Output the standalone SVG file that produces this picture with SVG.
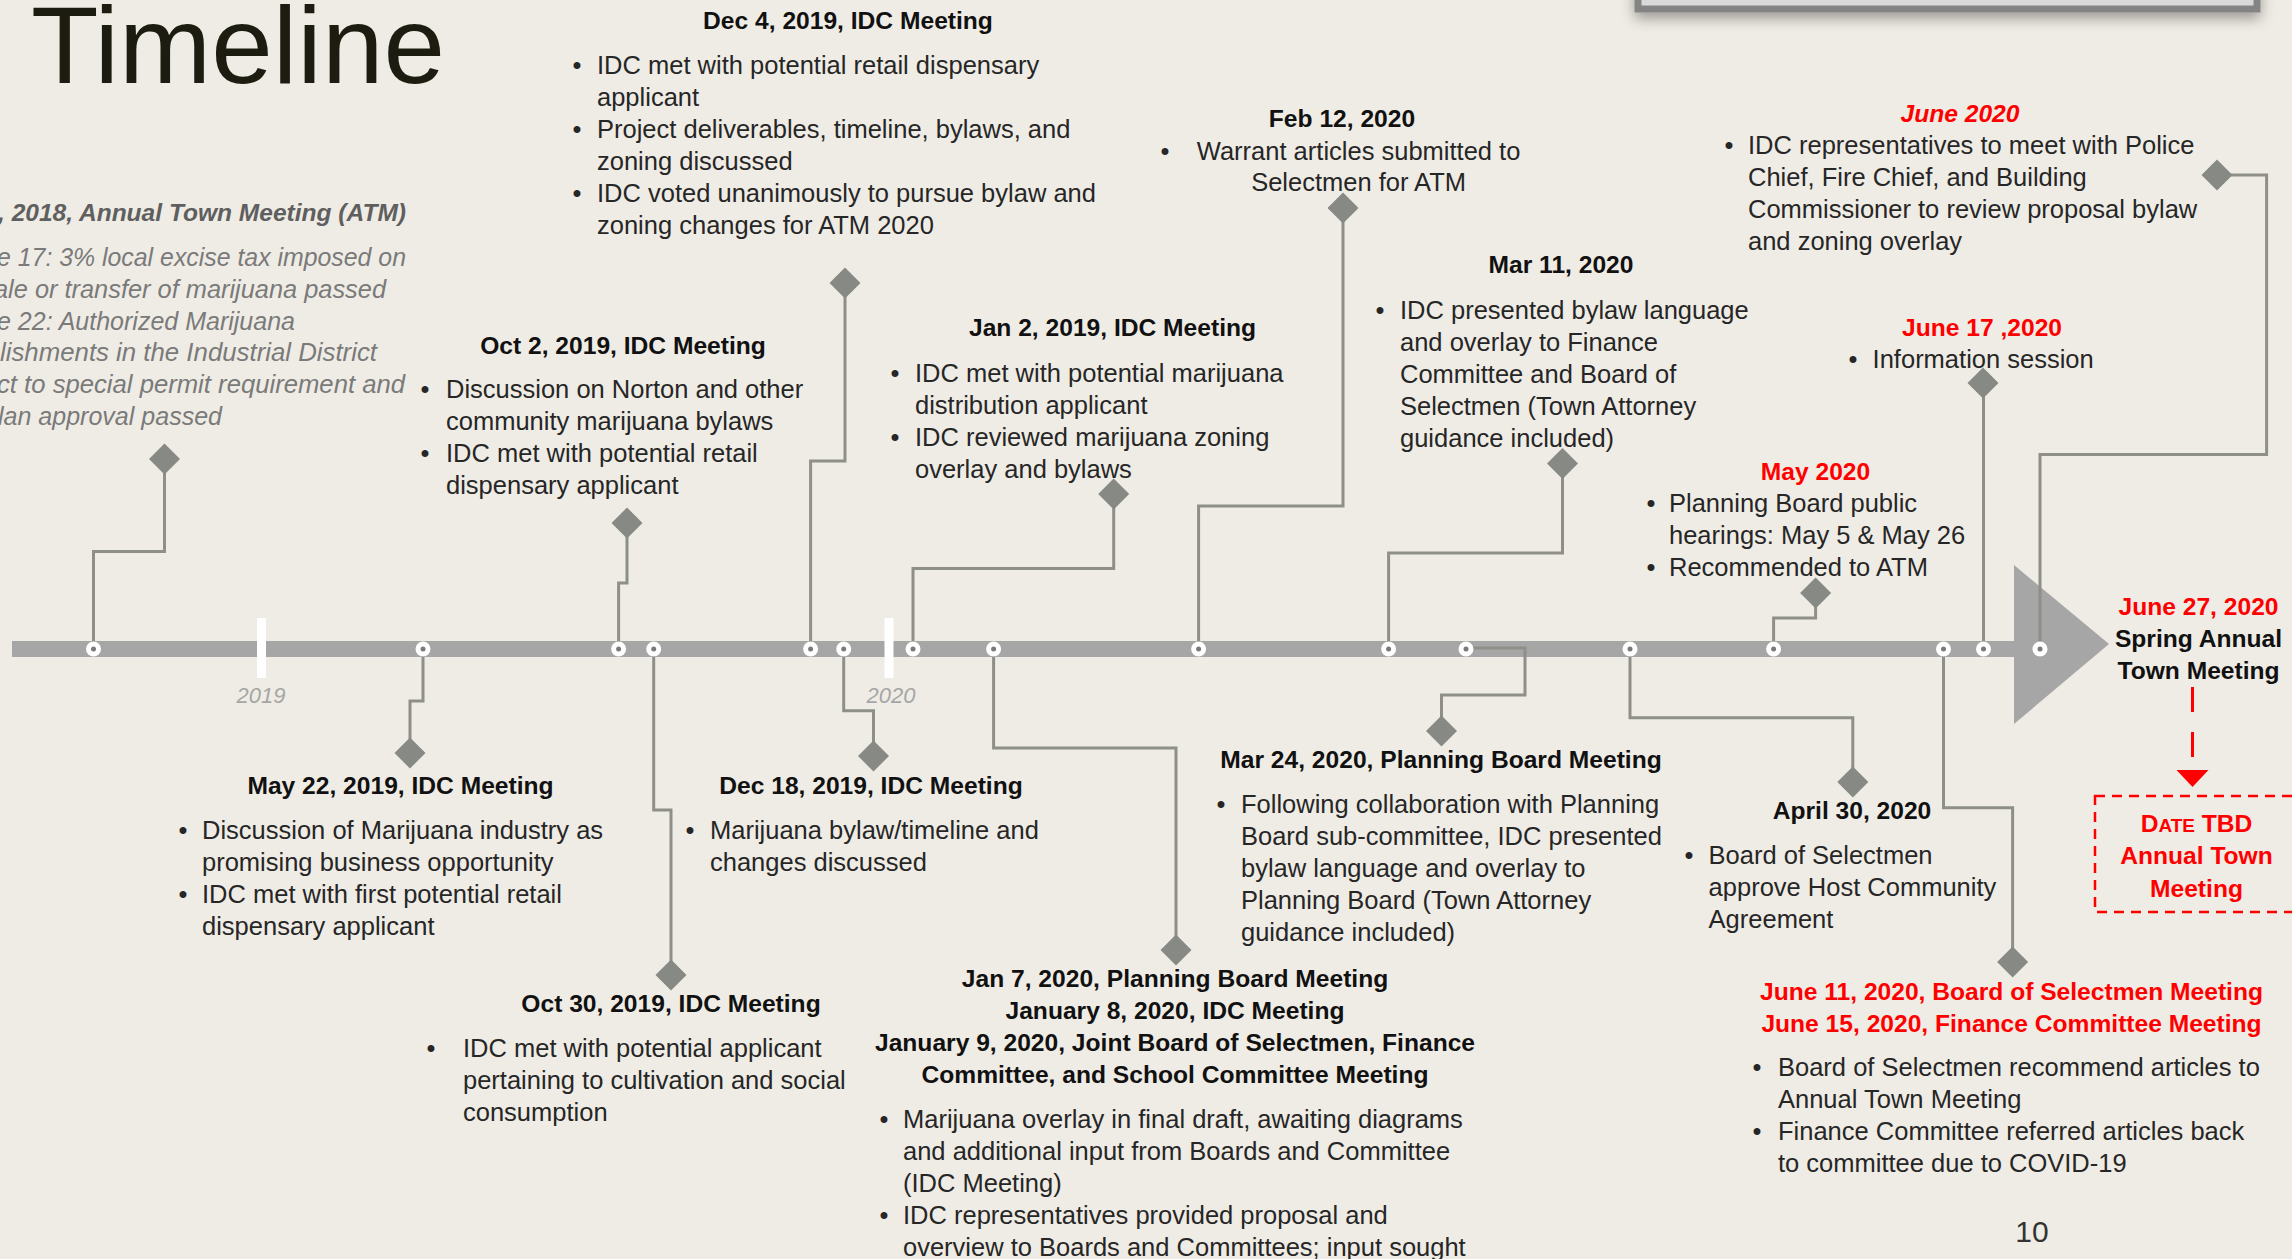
<svg xmlns="http://www.w3.org/2000/svg" xmlns:xlink="http://www.w3.org/1999/xlink" width="2292" height="1259" viewBox="0 0 2292 1259">
<style>
text { font-family: "Liberation Sans", Arial, sans-serif; }
.title { font-size:109px; fill:#1c1c10; }
.h { font-size:24.6px; font-weight:bold; fill:#111111; text-anchor:middle; }
.red { fill:#FF0000; }
.t { font-size:25.5px; fill:#262626; }
.bu { font-size:25.5px; fill:#262626; text-anchor:middle; }
.gi { font-size:25.5px; font-style:italic; fill:#7a7a7a; }
.gh { font-size:24.6px; font-style:italic; font-weight:bold; fill:#5f5f5f; }
.yr { font-size:22px; font-style:italic; fill:#A6A6A6; text-anchor:middle; }
.conn { fill:none; stroke:#8E8F89; stroke-width:3; }
.dm { fill:#878984; }
</style>
<defs>
<path id="dm" d="M0,-15.5 L15.5,0 L0,15.5 L-15.5,0 Z"/>
<g id="dot"><circle r="7.5" fill="#ffffff"/><circle r="2.5" fill="#7a7a7a"/></g>
<filter id="sh" x="-10%" y="-100%" width="120%" height="400%">
<feDropShadow dx="0" dy="6" stdDeviation="7" flood-color="#000" flood-opacity="0.35"/>
</filter>
</defs>
<rect x="0" y="0" width="2292" height="1259" fill="#EFECE5"/>

<g id="topbox">
<rect x="1638" y="-30" width="619" height="39" fill="#d9d9d9" stroke="#848484" stroke-width="7" filter="url(#sh)"/>
</g>

<g id="title">
<text class="title" x="31" y="83" textLength="414" lengthAdjust="spacingAndGlyphs">Timeline</text>
</g>

<g id="axis">
<rect x="12" y="641" width="2004" height="16" fill="#A6A6A6"/>
<polygon points="2014,565 2014,724 2109,644" fill="#A6A6A6"/>
<rect x="257" y="618" width="9" height="60" fill="#ffffff"/>
<rect x="884.5" y="618" width="9" height="60" fill="#ffffff"/>
<text class="yr" x="261" y="703">2019</text>
<text class="yr" x="891" y="703">2020</text>
</g>

<g id="connectors">
<path class="conn" d="M93.5,649 V551.5 H164.5 V459"/>
<path class="conn" d="M423,649 V701 H410 V753"/>
<path class="conn" d="M618.6,649 V583 H627 V523"/>
<path class="conn" d="M653.7,649 V810 H671 V975"/>
<path class="conn" d="M810.6,649 V461 H845 V283"/>
<path class="conn" d="M843.7,649 V710.7 H873.5 V756"/>
<path class="conn" d="M913,649 V568.5 H1113.7 V494"/>
<path class="conn" d="M993.6,649 V748 H1176 V950"/>
<path class="conn" d="M1198.6,649 V506 H1343 V208"/>
<path class="conn" d="M1388.6,649 V553 H1562.5 V463.5"/>
<path class="conn" d="M1466,648 H1525 V695 H1441.5 V731"/>
<path class="conn" d="M1630,649 V717.7 H1852.8 V782"/>
<path class="conn" d="M1773.6,649 V618 H1815.6 V593"/>
<path class="conn" d="M1943.5,649 V807.7 H2012.6 V962"/>
<path class="conn" d="M1983.5,649 V383"/>
<path class="conn" d="M2040,649 V454.6 H2266.6 V175 H2217"/>
<path d="M2192.5,687 V770" fill="none" stroke="#FF0000" stroke-width="3" stroke-dasharray="25 20"/>
<polygon points="2176.5,770 2208.5,770 2192.5,787" fill="#FF0000"/>
</g>

<g id="dots">
<use xlink:href="#dot" href="#dot" x="93.5" y="649"/>
<use xlink:href="#dot" href="#dot" x="423" y="649"/>
<use xlink:href="#dot" href="#dot" x="618.6" y="649"/>
<use xlink:href="#dot" href="#dot" x="653.7" y="649"/>
<use xlink:href="#dot" href="#dot" x="810.6" y="649"/>
<use xlink:href="#dot" href="#dot" x="843.7" y="649"/>
<use xlink:href="#dot" href="#dot" x="913" y="649"/>
<use xlink:href="#dot" href="#dot" x="993.6" y="649"/>
<use xlink:href="#dot" href="#dot" x="1198.6" y="649"/>
<use xlink:href="#dot" href="#dot" x="1388.6" y="649"/>
<use xlink:href="#dot" href="#dot" x="1466" y="649"/>
<use xlink:href="#dot" href="#dot" x="1630" y="649"/>
<use xlink:href="#dot" href="#dot" x="1773.6" y="649"/>
<use xlink:href="#dot" href="#dot" x="1943.5" y="649"/>
<use xlink:href="#dot" href="#dot" x="1983.5" y="649"/>
<use xlink:href="#dot" href="#dot" x="2040" y="649"/>
</g>

<g id="ev-2018-atm">
<use xlink:href="#dm" href="#dm" class="dm" x="164.5" y="459"/>
<text class="gh" x="-2" y="221" textLength="408" lengthAdjust="spacingAndGlyphs">, 2018, Annual Town Meeting (ATM)</text>
<text class="gi" x="-3" y="266" textLength="409" lengthAdjust="spacingAndGlyphs">e 17: 3% local excise tax imposed on</text>
<text class="gi" x="-6" y="298" textLength="392" lengthAdjust="spacingAndGlyphs">ale or transfer of marijuana passed</text>
<text class="gi" x="-3" y="330" textLength="298" lengthAdjust="spacingAndGlyphs">e 22: Authorized Marijuana</text>
<text class="gi" x="0" y="361" textLength="377" lengthAdjust="spacingAndGlyphs">lishments in the Industrial District</text>
<text class="gi" x="-3" y="393" textLength="408" lengthAdjust="spacingAndGlyphs">ct to special permit requirement and</text>
<text class="gi" x="-2" y="425" textLength="224" lengthAdjust="spacingAndGlyphs">lan approval passed</text>
</g>

<g id="ev-may22-2019">
<use xlink:href="#dm" href="#dm" class="dm" x="410" y="753"/>
<text class="h" x="400.5" y="794">May 22, 2019, IDC Meeting</text>
<text class="bu" x="183" y="839">•</text>
<text class="t" x="202" y="839">Discussion of Marijuana industry as</text>
<text class="t" x="202" y="871">promising business opportunity</text>
<text class="bu" x="183" y="903">•</text>
<text class="t" x="202" y="903">IDC met with first potential retail</text>
<text class="t" x="202" y="935">dispensary applicant</text>
</g>

<g id="ev-oct2-2019">
<use xlink:href="#dm" href="#dm" class="dm" x="627" y="523"/>
<text class="h" x="623" y="354">Oct 2, 2019, IDC Meeting</text>
<text class="bu" x="425" y="398">•</text>
<text class="t" x="446" y="398">Discussion on Norton and other</text>
<text class="t" x="446" y="430">community marijuana bylaws</text>
<text class="bu" x="425" y="462">•</text>
<text class="t" x="446" y="462">IDC met with potential retail</text>
<text class="t" x="446" y="494">dispensary applicant</text>
</g>

<g id="ev-oct30-2019">
<use xlink:href="#dm" href="#dm" class="dm" x="671" y="975"/>
<text class="h" x="671" y="1012">Oct 30, 2019, IDC Meeting</text>
<text class="bu" x="431" y="1057">•</text>
<text class="t" x="463" y="1057">IDC met with potential applicant</text>
<text class="t" x="463" y="1089">pertaining to cultivation and social</text>
<text class="t" x="463" y="1121">consumption</text>
</g>

<g id="ev-dec4-2019">
<use xlink:href="#dm" href="#dm" class="dm" x="845" y="283"/>
<text class="h" x="848" y="29">Dec 4, 2019, IDC Meeting</text>
<text class="bu" x="577" y="74">•</text>
<text class="t" x="597" y="74">IDC met with potential retail dispensary</text>
<text class="t" x="597" y="106">applicant</text>
<text class="bu" x="577" y="138">•</text>
<text class="t" x="597" y="138">Project deliverables, timeline, bylaws, and</text>
<text class="t" x="597" y="170">zoning discussed</text>
<text class="bu" x="577" y="202">•</text>
<text class="t" x="597" y="202">IDC voted unanimously to pursue bylaw and</text>
<text class="t" x="597" y="234">zoning changes for ATM 2020</text>
</g>

<g id="ev-dec18-2019">
<use xlink:href="#dm" href="#dm" class="dm" x="873.5" y="756"/>
<text class="h" x="871" y="794">Dec 18, 2019, IDC Meeting</text>
<text class="bu" x="690" y="839">•</text>
<text class="t" x="710" y="839">Marijuana bylaw/timeline and</text>
<text class="t" x="710" y="871">changes discussed</text>
</g>

<g id="ev-jan2">
<use xlink:href="#dm" href="#dm" class="dm" x="1113.7" y="494"/>
<text class="h" x="1112.5" y="336">Jan 2, 2019, IDC Meeting</text>
<text class="bu" x="895" y="382">•</text>
<text class="t" x="915" y="382">IDC met with potential marijuana</text>
<text class="t" x="915" y="414">distribution applicant</text>
<text class="bu" x="895" y="446">•</text>
<text class="t" x="915" y="446">IDC reviewed marijuana zoning</text>
<text class="t" x="915" y="478">overlay and bylaws</text>
</g>

<g id="ev-jan7-2020">
<use xlink:href="#dm" href="#dm" class="dm" x="1176" y="950"/>
<text class="h" x="1175" y="987">Jan 7, 2020, Planning Board Meeting</text>
<text class="h" x="1175" y="1019">January 8, 2020, IDC Meeting</text>
<text class="h" x="1175" y="1051">January 9, 2020, Joint Board of Selectmen, Finance</text>
<text class="h" x="1175" y="1083">Committee, and School Committee Meeting</text>
<text class="bu" x="884" y="1128">•</text>
<text class="t" x="903" y="1128">Marijuana overlay in final draft, awaiting diagrams</text>
<text class="t" x="903" y="1160">and additional input from Boards and Committee</text>
<text class="t" x="903" y="1192">(IDC Meeting)</text>
<text class="bu" x="884" y="1224">•</text>
<text class="t" x="903" y="1224">IDC representatives provided proposal and</text>
<text class="t" x="903" y="1256">overview to Boards and Committees; input sought</text>
</g>

<g id="ev-feb12-2020">
<use xlink:href="#dm" href="#dm" class="dm" x="1343" y="208"/>
<text class="h" x="1342" y="127">Feb 12, 2020</text>
<text class="bu" x="1165" y="160">•</text>
<text class="t" x="1358.6" y="160" text-anchor="middle">Warrant articles submitted to</text>
<text class="t" x="1358.6" y="191" text-anchor="middle">Selectmen for ATM</text>
</g>

<g id="ev-mar11-2020">
<use xlink:href="#dm" href="#dm" class="dm" x="1562.5" y="463.5"/>
<text class="h" x="1561" y="273">Mar 11, 2020</text>
<text class="bu" x="1380" y="319">•</text>
<text class="t" x="1400" y="319">IDC presented bylaw language</text>
<text class="t" x="1400" y="351">and overlay to Finance</text>
<text class="t" x="1400" y="383">Committee and Board of</text>
<text class="t" x="1400" y="415">Selectmen (Town Attorney</text>
<text class="t" x="1400" y="447">guidance included)</text>
</g>

<g id="ev-mar24-2020">
<use xlink:href="#dm" href="#dm" class="dm" x="1441.5" y="731"/>
<text class="h" x="1441" y="768">Mar 24, 2020, Planning Board Meeting</text>
<text class="bu" x="1221" y="813">•</text>
<text class="t" x="1241" y="813">Following collaboration with Planning</text>
<text class="t" x="1241" y="845">Board sub-committee, IDC presented</text>
<text class="t" x="1241" y="877">bylaw language and overlay to</text>
<text class="t" x="1241" y="909">Planning Board (Town Attorney</text>
<text class="t" x="1241" y="941">guidance included)</text>
</g>

<g id="ev-apr30-2020">
<use xlink:href="#dm" href="#dm" class="dm" x="1852.8" y="782"/>
<text class="h" x="1852" y="819">April 30, 2020</text>
<text class="bu" x="1689" y="864">•</text>
<text class="t" x="1708.6" y="864">Board of Selectmen</text>
<text class="t" x="1708.6" y="896">approve Host Community</text>
<text class="t" x="1708.6" y="928">Agreement</text>
</g>

<g id="ev-may-2020">
<use xlink:href="#dm" href="#dm" class="dm" x="1815.6" y="593"/>
<text class="h red" x="1815.5" y="480">May 2020</text>
<text class="bu" x="1651" y="512">•</text>
<text class="t" x="1669" y="512">Planning Board public</text>
<text class="t" x="1669" y="544">hearings: May 5 &amp; May 26</text>
<text class="bu" x="1651" y="576">•</text>
<text class="t" x="1669" y="576">Recommended to ATM</text>
</g>

<g id="ev-june11-15-2020">
<use xlink:href="#dm" href="#dm" class="dm" x="2012.6" y="962"/>
<text class="h red" x="2011.5" y="1000">June 11, 2020, Board of Selectmen Meeting</text>
<text class="h red" x="2011.5" y="1032">June 15, 2020, Finance Committee Meeting</text>
<text class="bu" x="1757" y="1076">•</text>
<text class="t" x="1778" y="1076">Board of Selectmen recommend articles to</text>
<text class="t" x="1778" y="1108">Annual Town Meeting</text>
<text class="bu" x="1757" y="1140">•</text>
<text class="t" x="1778" y="1140">Finance Committee referred articles back</text>
<text class="t" x="1778" y="1172">to committee due to COVID-19</text>
</g>

<g id="ev-june17-2020">
<use xlink:href="#dm" href="#dm" class="dm" x="1983" y="383"/>
<text class="h red" x="1982" y="336">June 17 ,2020</text>
<text class="bu" x="1853" y="368">•</text>
<text class="t" x="1872.6" y="368">Information session</text>
</g>

<g id="ev-june-2020">
<use xlink:href="#dm" href="#dm" class="dm" x="2217" y="175"/>
<text class="h red" x="1960" y="122" font-style="italic">June 2020</text>
<text class="bu" x="1729" y="154">•</text>
<text class="t" x="1748" y="154">IDC representatives to meet with Police</text>
<text class="t" x="1748" y="186">Chief, Fire Chief, and Building</text>
<text class="t" x="1748" y="218">Commissioner to review proposal bylaw</text>
<text class="t" x="1748" y="250">and zoning overlay</text>
</g>

<g id="ev-june27-2020">
<text class="h red" x="2198.5" y="615">June 27, 2020</text>
<text class="h" x="2198.5" y="647">Spring Annual</text>
<text class="h" x="2198.5" y="679">Town Meeting</text>
</g>

<g id="tbd-box">
<rect x="2095" y="796" width="220" height="116" fill="none" stroke="#FF0000" stroke-width="2.5" stroke-dasharray="10 7"/>
<text class="h red" x="2196.5" y="832">D<tspan font-size="19px">ATE</tspan> TBD</text>
<text class="h red" x="2196.5" y="864">Annual Town</text>
<text class="h red" x="2196.5" y="897">Meeting</text>
</g>

<g id="page-number">
<text x="2032" y="1242" font-size="30" fill="#333333" text-anchor="middle">10</text>
</g>
</svg>
